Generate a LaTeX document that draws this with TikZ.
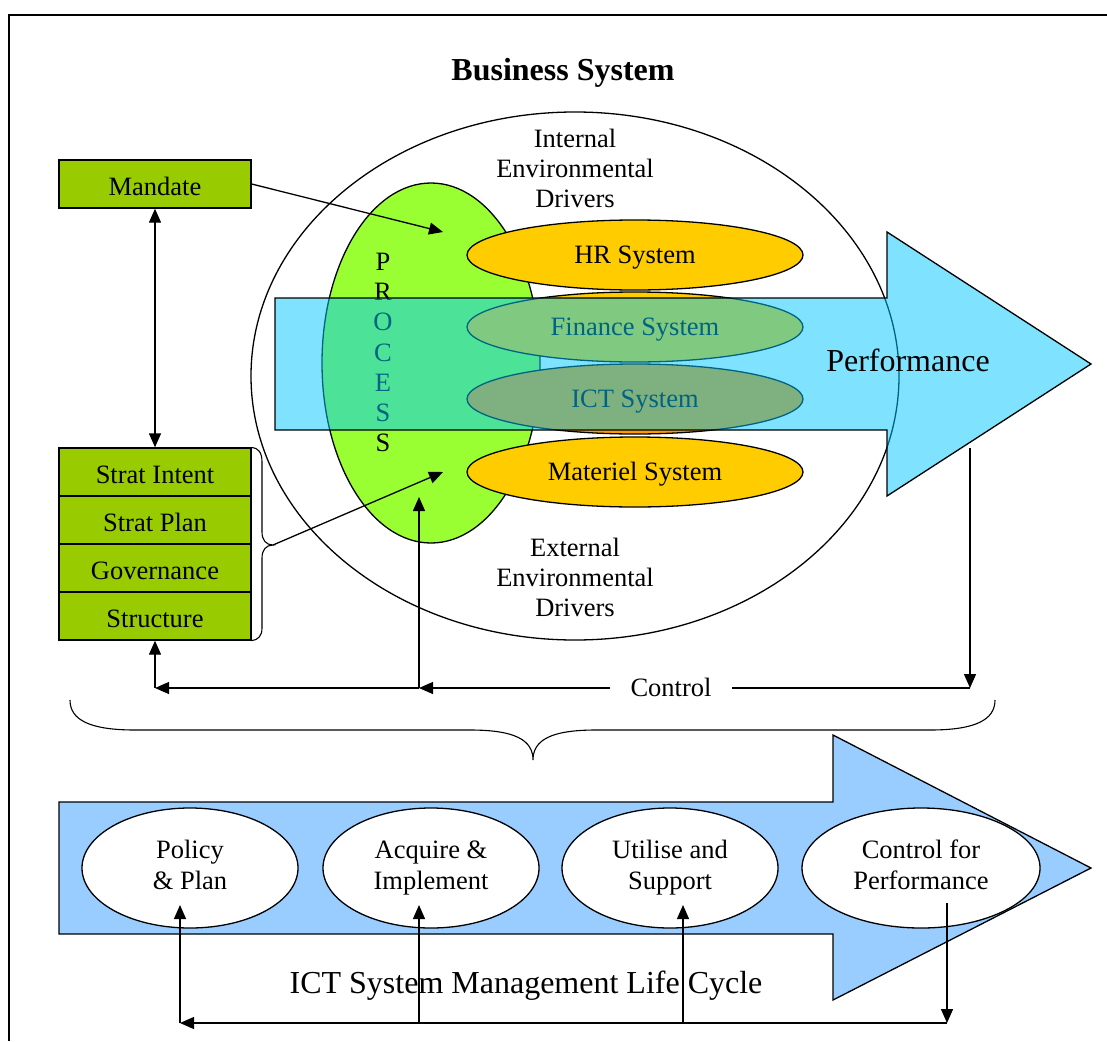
\documentclass[tikz,border=0pt]{standalone}
\usepackage{fontspec}
\setmainfont{Liberation Serif}
\usetikzlibrary{arrows.meta,shapes.geometric}
\definecolor{boxgreen}{HTML}{99CC00}
\definecolor{procgreen}{HTML}{99FF33}
\definecolor{sysorange}{HTML}{FFCC00}
\definecolor{ictorange}{HTML}{FF9900}
\definecolor{perfcyan}{RGB}{0,200,255}
\definecolor{lcblue}{HTML}{99CCFF}
\begin{document}
\begin{tikzpicture}[x=1pt,y=-1pt,line width=1.3pt,
  txt/.style={font=\fontsize{26.5}{30}\selectfont,align=center,inner sep=0pt},
  sysell/.style={ellipse,draw,fill=sysorange,minimum width=336pt,minimum height=70pt,inner sep=0pt,text height=17.2pt,text depth=0pt,font=\fontsize{26.5}{30}\selectfont},
  lcell/.style={ellipse,draw,fill=white,minimum width=216pt,minimum height=120pt,inner sep=0pt,align=center,font=\fontsize{26.5}{31}\selectfont},
  stratbox/.style={rectangle,draw,fill=boxgreen,minimum width=192pt,minimum height=48pt,inner sep=0pt,text height=23pt,text depth=0pt,font=\fontsize{26.5}{30}\selectfont},
  arr/.style={-{Triangle[length=14pt,width=12pt]}},
  arrboth/.style={{Triangle[length=14pt,width=12pt]}-{Triangle[length=14pt,width=12pt]}}]
\useasboundingbox (0,0) rectangle (1107,1041);
% frame
\draw[line width=2.2pt] (9,1041) -- (9,15) -- (1107,15);
\node[font=\bfseries\fontsize{32}{36}\selectfont,inner sep=0pt] (title) at (563,73) {Business System};
% business system ellipse
\node[ellipse,draw,minimum width=648pt,minimum height=528pt,inner sep=0pt] (biz) at (575,376) {};
% process ellipse
\node[ellipse,draw,fill=procgreen,minimum width=218pt,minimum height=360pt,inner sep=0pt] (proc) at (431,363) {};
% systems
\node[sysell] (hr) at (635,255) {HR System};
\node[sysell] (fin) at (635,327) {Finance System};
\node[sysell,fill=ictorange] (ict) at (635,399) {ICT System};
\node[sysell] (mat) at (635,472) {Materiel System};
\node[txt,font=\fontsize{26.5}{30.2}\selectfont] (process) at (383,352.6) {P\\R\\O\\C\\E\\S\\S};
% performance arrow
\draw[fill=perfcyan,fill opacity=0.5] (275,298) -- (887,298) -- (887,232) -- (1091,364) -- (887,496) -- (887,430) -- (275,430) -- cycle;
\node[txt,font=\fontsize{32}{36}\selectfont] (perf) at (908,360) {Performance};
% drivers
\node[txt] (intdrv) at (575,168) {Internal\\Environmental\\Drivers};
\node[txt] (extdrv) at (575,577) {External\\Environmental\\Drivers};
% left boxes
\node[stratbox] (mandate) at (155,184) {Mandate};
\node[stratbox] (s1) at (155,472) {Strat Intent};
\node[stratbox] (s2) at (155,520) {Strat Plan};
\node[stratbox] (s3) at (155,568) {Governance};
\node[stratbox] (s4) at (155,616) {Structure};
\draw[arrboth] (mandate.south) -- (s1.north);
\coordinate (mtip) at (443,232);
\draw[arr] (mandate.east) -- (mtip);
% brace on stack
\coordinate (bcusp) at (273,545);
\draw[line width=1.1pt] (s1.north east) .. controls (258,448) and (262,452) .. (262,462) -- (262,532)
  .. controls (262,540) and (266,545) .. (bcusp)
  .. controls (266,545) and (262,550) .. (262,558) -- (262,628)
  .. controls (262,636) and (258,640) .. (s4.south east);
\coordinate (btip) at (443,472);
\draw[arr] (bcusp) -- (btip);
% control loop
\coordinate (pd) at (970,448);
\coordinate (cr) at (970,688);
\coordinate (cj) at (419,688);
\coordinate (cl) at (155,688);
\coordinate (cup) at (419,497);
\node[txt,inner xsep=20pt,text height=17.2pt,text depth=0pt] (ctl) at (671,688) {Control};
\draw[arr] (pd) -- (cr);
\draw (cr) -- (ctl.east);
\draw[arr] (ctl.west) -- (cj);
\draw[arr] (cj) -- (cl);
\draw[arr] (cl) -- (s4.south);
\draw[arr] (cj) -- (cup);
% big brace
\coordinate (brL) at (70,700);
\coordinate (brM) at (533,760);
\coordinate (brR) at (995,700);
\draw[line width=1.1pt] (brL) .. controls (70,720) and (90,730) .. (135,730) -- (470,730)
  .. controls (515,730) and (533,740) .. (brM)
  .. controls (533,740) and (551,730) .. (596,730) -- (930,730)
  .. controls (975,730) and (995,720) .. (brR);
% life cycle arrow
\draw[fill=lcblue] (59,802) -- (833,802) -- (833,735) -- (1091,868) -- (833,1000) -- (833,934) -- (59,934) -- cycle;
\node[lcell] (c1) at (190,868) {\strut Policy\\\& Plan\strut};
\node[lcell] (c2) at (431,868) {\strut Acquire \&\\Implement\strut};
\node[lcell] (c3) at (670,868) {\strut Utilise and\\Support\strut};
\node[lcell,minimum width=238pt] (c4) at (921,868) {\strut Control for\\Performance\strut};
\node[txt,font=\fontsize{32}{36}\selectfont,text height=21pt,text depth=0pt] (lc) at (526,983) {ICT System Management Life Cycle};
% bottom loop
\coordinate (b4) at (947,903);
\coordinate (b4e) at (947,1023);
\coordinate (b1) at (180,1023);
\coordinate (b2) at (419,1023);
\coordinate (b3) at (683,1023);
\coordinate (t1) at (180,905);
\coordinate (t2) at (419,905);
\coordinate (t3) at (683,905);
\draw[arr] (b4) -- (b4e);
\draw[arr] (b4e) -- (b1);
\draw[arr] (b1) -- (t1);
\draw[arr] (b2) -- (t2);
\draw[arr] (b3) -- (t3);
\end{tikzpicture}
\end{document}
